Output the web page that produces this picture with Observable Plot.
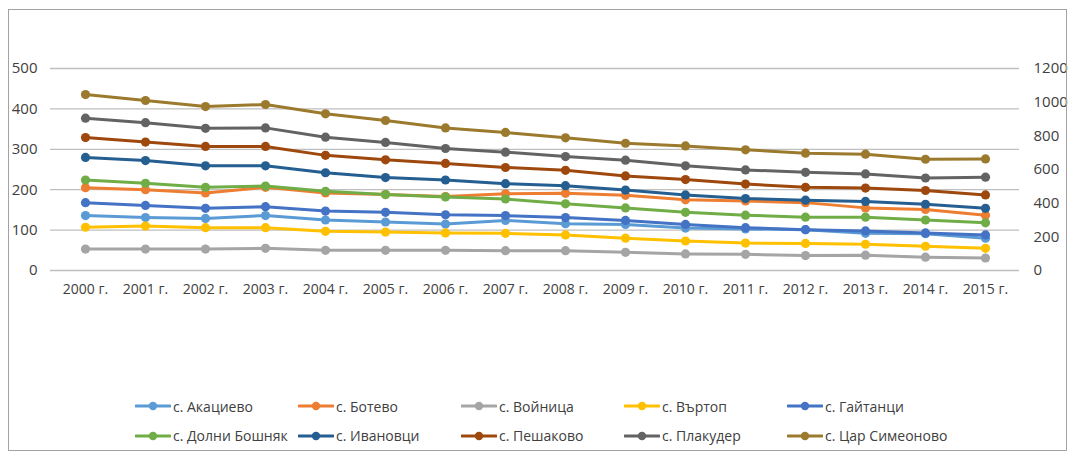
<!DOCTYPE html>
<html>
<head>
<meta charset="utf-8">
<script src="https://cdn.jsdelivr.net/npm/d3@7"></script>
<script src="https://cdn.jsdelivr.net/npm/@observablehq/plot@0.6"></script>
<style>
  html, body { margin: 0; padding: 0; background: #fff; }
  body { width: 1077px; height: 457px; position: relative; overflow: hidden; font-family: "Open Sans", sans-serif; }
  #frame { position: absolute; left: 8px; top: 9px; width: 1059px; height: 442px; border: 1.4px solid #a3a3a3; box-sizing: border-box; pointer-events: none; }
  #chart { position: absolute; left: 0; top: 0; }
  #legend { position: absolute; left: 135px; top: 394px; display: grid; grid-template-columns: repeat(5, 163px); grid-auto-rows: 29.5px; font-size: 14px; color: #404040; }
  .item { display: flex; align-items: center; white-space: nowrap; height: 24px; }
  .item svg { margin-right: 2px; flex: none; }
</style>
</head>
<body>
<div id="chart"></div>
<div id="legend"></div>
<div id="frame"></div>
<script>
const years = ["2000 г.","2001 г.","2002 г.","2003 г.","2004 г.","2005 г.","2006 г.","2007 г.","2008 г.","2009 г.","2010 г.","2011 г.","2012 г.","2013 г.","2014 г.","2015 г."];
const seriesNames = ["с. Акациево","с. Ботево","с. Войница","с. Въртоп","с. Гайтанци","с. Долни Бошняк","с. Ивановци","с. Пешаково","с. Плакудер","с. Цар Симеоново"];
const seriesColors = ["#5B9BD5","#ED7D31","#A5A5A5","#FFC000","#4472C4","#70AD47","#255E91","#9E480E","#636363","#9B7A2E"];
const leftTicks = [0,100,200,300,400,500];
const rightTicks = [0,200,400,600,800,1000,1200];

const akatsievo     = [136,131,129,136,125,120,115,124,116,114,105,103,101,92,91,80];
const botevo        = [205,200,192,206,192,188,183,190,191,186,175,172,168,155,151,137];
const voynitsa      = [53,53,53,55,50,50,50,49,49,45,41,40,37,38,33,31];
const vartop        = [107,110,106,106,97,95,93,92,88,80,73,68,67,65,60,55];
const gaitantsi     = [168,161,154,158,147,144,138,136,131,124,114,106,101,98,93,88];
const dolniBoshnyak = [224,216,206,209,196,188,182,177,165,155,144,137,132,132,125,118];
const ivanovtsi     = [280,272,259,259,242,230,224,215,210,199,187,178,174,171,164,154];
const peshakovo     = [329,318,307,307,285,274,265,255,248,234,225,214,206,204,198,187];
const plakuder      = [377,366,352,353,330,317,302,293,282,273,259,249,243,239,229,231];
// secondary (right) axis
const tsarSimeonovo = [1045,1010,974,986,931,891,847,820,788,756,740,717,697,691,661,663];

const seriesValues = [akatsievo, botevo, voynitsa, vartop, gaitantsi, dolniBoshnyak, ivanovtsi, peshakovo, plakuder, tsarSimeonovo];
const secondary = [false,false,false,false,false,false,false,false,false,true];

const leftMax = 500, rightMax = 1200;
const toPrimary = v => v * leftMax / rightMax;

const seriesMarks = [];
seriesNames.forEach((name, i) => {
  const rows = years.map((yr, j) => ({year: yr, series: name, value: seriesValues[i][j], y: secondary[i] ? toPrimary(seriesValues[i][j]) : seriesValues[i][j]}));
  seriesMarks.push(Plot.line(rows, {x: "year", y: "y", stroke: "series", strokeWidth: 3, strokeLinejoin: "round", strokeLinecap: "round"}));
  seriesMarks.push(Plot.dot(rows, {x: "year", y: "y", fill: "series", r: 4.6, stroke: "none"}));
});

const chart = Plot.plot({
  width: 1077,
  height: 380,
  marginLeft: 50,
  marginRight: 58,
  marginTop: 68,
  marginBottom: 110,
  style: {fontFamily: "'Open Sans', sans-serif", fontSize: "15px", color: "#404040", background: "transparent", overflow: "visible"},
  x: {type: "point", domain: years, padding: 0.5, axis: null},
  y: {domain: [0, leftMax], axis: null},
  color: {domain: seriesNames, range: seriesColors},
  marks: [
    Plot.gridY(leftTicks, {stroke: "#bfbfbf", strokeOpacity: 1, strokeWidth: 1.3}),
    Plot.axisY(leftTicks, {anchor: "left", label: null, tickSize: 0, tickPadding: 13, fontSize: 15, fill: "#404040"}),
    Plot.axisY(rightTicks.map(toPrimary), {anchor: "right", label: null, tickSize: 0, tickPadding: 14, fontSize: 15, fill: "#404040", tickFormat: d => String(Math.round(d * rightMax / leftMax))}),
    Plot.axisX({label: null, tickSize: 0, tickPadding: 14, fontSize: 14, fill: "#404040"}),
    ...seriesMarks
  ]
});
document.getElementById("chart").appendChild(chart);

const legend = document.getElementById("legend");
seriesNames.forEach((name, i) => {
  const item = document.createElement("div");
  item.className = "item";
  const c = seriesColors[i];
  item.innerHTML = `<svg width="36" height="10"><line x1="1" y1="5" x2="35" y2="5" stroke="${c}" stroke-width="3" stroke-linecap="round"/><circle cx="18" cy="5" r="4.2" fill="${c}"/></svg><span>${name}</span>`;
  legend.appendChild(item);
});
</script>
</body>
</html>
